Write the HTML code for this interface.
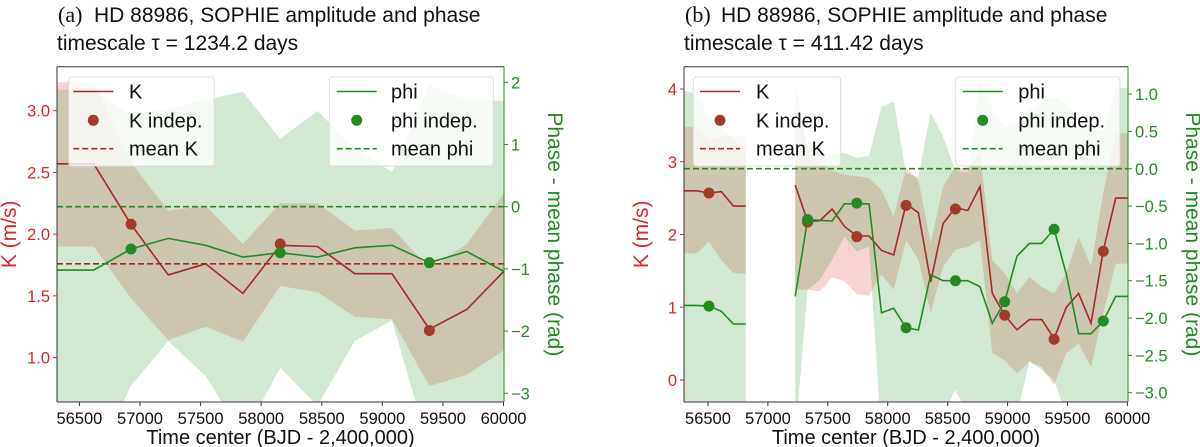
<!DOCTYPE html>
<html><head><meta charset="utf-8"><style>
html,body{margin:0;padding:0;background:#fff;}
svg{display:block;font-family:"Liberation Sans","DejaVu Sans",sans-serif;}
</style></head><body>
<svg id="chart" width="1200" height="447" viewBox="0 0 1200 447" xmlns="http://www.w3.org/2000/svg"></svg>
<script>
// ---------- Panel (a) data ----------
const timesA = [56310,56618,56926,57233,57541,57849,58157,58465,58772,59080,59388,59696,60004];
const kA     = [2.57,2.57,2.08,1.67,1.76,1.52,1.91,1.90,1.68,1.68,1.23,1.39,1.70];
const kUpA   = [3.23,3.23,2.58,2.19,2.23,1.92,2.25,2.25,2.03,2.05,1.72,1.92,2.33];
const kLoA   = [1.90,1.90,1.48,1.14,1.25,1.13,1.58,1.53,1.33,1.31,0.77,0.86,1.06];
const phiA   = [-1.02,-1.02,-0.68,-0.51,-0.62,-0.81,-0.74,-0.81,-0.66,-0.62,-0.90,-0.72,-1.04];
const phiUpA = [1.88,1.89,1.47,1.58,1.72,1.85,1.09,1.54,0.94,0.56,1.96,1.72,1.70];
const phiLoA = [-4.1,-4.1,-2.88,-2.16,-2.72,-3.7,-2.59,-3.2,-2.16,-1.83,-3.9,-4.0,-4.0];
const indepTimesA = [56926,58157,59388];
const kIndepA   = [2.08,1.92,1.22];
const phiIndepA = [-0.68,-0.74,-0.90];
const meanKA = 1.76, meanPhiA = 0;
const kTicksA = [1.0,1.5,2.0,2.5,3.0];
const kTickLabelsA = ["1.0","1.5","2.0","2.5","3.0"];
const phiTicksA = [-3,-2,-1,0,1,2];
const phiTickLabelsA = ["\u22123","\u22122","\u22121","0","1","2"];

// ---------- Panel (b) data ----------
const timesB = [56302,56405,56508,56611,56713,56816,56919,57022,57125,57228,57331,57433,57536,57639,57742,57845,57948,58050,58153,58256,58359,58462,58565,58668,58770,58873,58976,59079,59182,59285,59388,59490,59593,59696,59799,59902,60005];
const kB     = [2.60,2.60,2.57,2.59,2.39,2.39,null,null,null,2.68,2.18,2.19,2.35,2.11,1.98,1.98,1.78,1.72,2.42,2.30,1.35,2.15,2.37,2.33,2.66,1.19,0.89,0.69,0.83,0.83,0.57,1.0,1.19,0.78,1.78,2.5,2.5];
const kUpB   = [3.48,3.48,3.30,3.35,3.35,3.35,null,null,null,4.10,3.16,3.00,2.88,2.82,2.80,2.78,2.61,2.25,2.91,2.75,1.88,2.66,2.93,2.89,3.12,1.65,1.47,1.19,1.42,1.28,1.19,1.47,1.97,1.56,2.57,3.39,3.39];
const kLoB   = [1.74,1.74,1.90,1.65,1.47,1.46,null,null,null,1.24,1.24,1.22,1.41,1.36,1.18,1.16,1.45,1.24,1.92,1.65,0.92,1.56,1.79,1.83,1.92,0.37,0.27,0.09,0.25,0.18,-0.07,0.37,0.50,0.18,0.92,1.60,1.60];
const phiB   = [-1.83,-1.83,-1.84,-1.91,-2.08,-2.08,null,null,null,-1.71,-0.68,-0.69,-0.70,-0.47,-0.47,-0.47,-1.93,-1.87,-2.13,-2.16,-1.42,-1.50,-1.50,-1.50,-1.58,-2.07,-1.78,-1.17,-1.0,-1.0,-0.81,-1.41,-2.21,-2.21,-2.04,-1.71,-1.71];
const phiUpB = [1.05,1.00,0.68,0.54,0.40,0.25,null,null,null,0.92,0.30,0.20,0.21,0.21,0.15,0.17,0.83,0.90,-0.06,-0.11,0.76,0.43,-0.02,-0.06,1.17,0.79,0.56,0.61,0.79,0.88,0.97,0.88,0.65,0.56,0.50,1.08,1.08];
const phiLoB = [-3.6,-3.6,-3.6,-3.6,-3.6,-3.6,null,null,null,-3.6,-1.62,-1.49,-1.22,-0.91,-1.11,-1.04,-3.6,-3.6,-3.6,-3.6,-3.6,-3.3,-2.96,-3.3,-3.6,-3.6,-3.6,-3.3,-2.58,-2.70,-2.83,-3.3,-3.6,-3.6,-3.6,-3.6,-3.6];
const indepTimesB = [56508,57331,57742,58153,58565,58976,59388,59799];
const kIndepB   = [2.57,2.17,1.97,2.40,2.35,0.89,0.56,1.77];
const phiIndepB = [-1.84,-0.68,-0.46,-2.13,-1.50,-1.78,-0.81,-2.04];
const meanKB = 2.904, meanPhiB = 0;
const kTicksB = [0,1,2,3,4];
const kTickLabelsB = ["0","1","2","3","4"];
const phiTicksB = [-3,-2.5,-2,-1.5,-1,-0.5,0,0.5,1];
const phiTickLabelsB = ["\u22123.0","\u22122.5","\u22122.0","\u22121.5","\u22121.0","\u22120.5","0.0","0.5","1.0"];

const xTicks = [56500,57000,57500,58000,58500,59000,59500,60000];
const xTickLabels = ["56500","57000","57500","58000","58500","59000","59500","60000"];

const NS = "http://www.w3.org/2000/svg";
const svg = document.getElementById("chart");
const RED = "#d62728", KLINE = "#a52a2a", KDOT = "#a33a2a", GREEN = "#228b22";

function mk(tag, attrs, parent, text) {
  const e = document.createElementNS(NS, tag);
  for (const k in attrs) e.setAttribute(k, attrs[k]);
  if (text !== undefined) e.textContent = text;
  (parent || svg).appendChild(e);
  return e;
}

function segments(ts, vals) {
  const segs = []; let cur = [];
  ts.forEach((t, i) => {
    if (vals[i] === null) { if (cur.length) segs.push(cur); cur = []; }
    else cur.push(i);
  });
  if (cur.length) segs.push(cur);
  return segs;
}

function drawPanel(p) {
  const g = mk("g", {});
  
  
  const xS = t => p.x0 + (t - p.tmin) / (p.tmax - p.tmin) * (p.x1 - p.x0);
  const kS = v => p.kY0 + (p.kV0 - v) * p.kPx;
  const fS = v => p.fY0 + (p.fV0 - v) * p.fPx;
  const cid = "clip-" + p.id;
  const defs = mk("defs", {}, g);
  const cp = mk("clipPath", { id: cid }, defs);
  mk("rect", { x: p.x0, y: p.y0, width: p.x1 - p.x0, height: p.y1 - p.y0 }, cp);
  const plot = mk("g", { "clip-path": "url(#" + cid + ")" }, g);

  function band(ts, up, lo, sc, color, name) {
    segments(ts, up).forEach(seg => {
      let d = "";
      seg.forEach((i, j) => { d += (j ? "L" : "M") + xS(ts[i]).toFixed(1) + "," + sc(up[i]).toFixed(1); });
      seg.slice().reverse().forEach(i => { d += "L" + xS(ts[i]).toFixed(1) + "," + sc(lo[i]).toFixed(1); });
      const e = mk("path", { d: d + "Z", fill: color, "fill-opacity": 0.2, stroke: "none" }, plot);
      
      
    });
  }
  function line(ts, vals, sc, color, name) {
    segments(ts, vals).forEach(seg => {
      const pts = seg.map(i => xS(ts[i]).toFixed(1) + "," + sc(vals[i]).toFixed(1)).join(" ");
      const e = mk("polyline", { points: pts, fill: "none", stroke: color, "stroke-width": 1.6 }, plot);
      
      
    });
  }
  band(p.t, p.kUp, p.kLo, kS, RED, "k-uncertainty-band");
  band(p.t, p.phiUp, p.phiLo, fS, GREEN, "phi-uncertainty-band");

  const mk1 = mk("line", { x1: p.x0, x2: p.x1, y1: kS(p.meanK), y2: kS(p.meanK), stroke: KLINE, "stroke-width": 1.6, "stroke-dasharray": "6,3" }, plot);
  
  
  const mf = mk("line", { x1: p.x0, x2: p.x1, y1: fS(p.meanPhi), y2: fS(p.meanPhi), stroke: GREEN, "stroke-width": 1.6, "stroke-dasharray": "6,3" }, plot);
  
  

  line(p.t, p.k, kS, KLINE, "k-line");
  line(p.t, p.phi, fS, GREEN, "phi-line");

  p.it.forEach((t, i) => {
    const c = mk("circle", { cx: xS(t), cy: kS(p.kI[i]), r: 5.5, fill: KDOT }, plot);
    
    
  });
  p.it.forEach((t, i) => {
    const c = mk("circle", { cx: xS(t), cy: fS(p.phiI[i]), r: 5.5, fill: GREEN }, plot);
    
    
  });

  const frame = mk("g", {}, g);
  
  
  mk("line", { x1: p.x0, x2: p.x1, y1: p.y0, y2: p.y0, stroke: "#333", "stroke-width": 1 }, frame);
  mk("line", { x1: p.x0, x2: p.x1, y1: p.y1, y2: p.y1, stroke: "#333", "stroke-width": 1 }, frame);
  mk("line", { x1: p.x0, x2: p.x0, y1: p.y0, y2: p.y1, stroke: "#333", "stroke-width": 1 }, frame);
  mk("line", { x1: p.x1, x2: p.x1, y1: p.y0, y2: p.y1, stroke: GREEN, "stroke-width": 1 }, frame);

  const xt = mk("g", { "font-size": "16.5px", fill: "#111", "text-anchor": "middle" }, g);
  
  
  xTicks.forEach((t, i) => {
    const x = xS(t);
    mk("line", { x1: x, x2: x, y1: p.y1, y2: p.y1 + 4, stroke: "#333" }, xt);
    mk("text", { x: x, y: p.y1 + 22 }, xt, xTickLabels[i]);
  });
  const xl = mk("text", { x: (p.x0 + p.x1) / 2, y: 444, "font-size": "20px", "text-anchor": "middle", fill: "#111" }, g, "Time center (BJD - 2,400,000)");
  
  

  const kt = mk("g", { "font-size": "16.5px", fill: RED, "text-anchor": "end" }, g);
  
  
  p.kTicks.forEach((v, i) => {
    const y = kS(v);
    mk("line", { x1: p.x0 - 4, x2: p.x0, y1: y, y2: y, stroke: RED }, kt);
    mk("text", { x: p.x0 - 7, y: y + 6 }, kt, p.kTL[i]);
  });
  const kl = mk("text", { x: 0, y: 0, "font-size": "21px", fill: RED, "text-anchor": "middle", transform: "translate(" + p.kLabelX + "," + (p.y0 + p.y1) / 2 + ") rotate(-90)" }, g, "K (m/s)");
  
  

  const ft = mk("g", { "font-size": "16.5px", fill: GREEN, "text-anchor": "start" }, g);
  
  
  p.fTicks.forEach((v, i) => {
    const y = fS(v);
    mk("line", { x1: p.x1, x2: p.x1 + 4, y1: y, y2: y, stroke: GREEN }, ft);
    mk("text", { x: p.x1 + 7, y: y + 6 }, ft, p.fTL[i]);
  });
  const fl = mk("text", { x: 0, y: 0, "font-size": "21px", fill: GREEN, "text-anchor": "middle", transform: "translate(" + p.fLabelX + "," + (p.y0 + p.y1) / 2 + ") rotate(90)" }, g, "Phase - mean phase (rad)");
  
  

  function legend(bx, bw, hx, tx, entries, name) {
    const lg = mk("g", {}, g);
    
    
    mk("rect", { x: bx, y: 77, width: bw, height: 89, rx: 3, fill: "#fff", "fill-opacity": 0.8, stroke: "#ddd", "stroke-width": 1 }, lg);
    const ys = [91.5, 120.3, 148.7];
    entries.forEach((en, i) => {
      const y = ys[i];
      if (en.type === "line") mk("line", { x1: hx, x2: hx + 40, y1: y, y2: y, stroke: en.color, "stroke-width": 1.6 }, lg);
      if (en.type === "dash") mk("line", { x1: hx, x2: hx + 40, y1: y, y2: y, stroke: en.color, "stroke-width": 1.6, "stroke-dasharray": "6,3" }, lg);
      if (en.type === "dot") mk("circle", { cx: hx + 20, cy: y, r: 5.5, fill: en.color }, lg);
      mk("text", { x: tx, y: y + 7, "font-size": "20px", fill: "#111" }, lg, en.label);
    });
  }
  legend(p.kLeg[0], p.kLeg[1], p.kLeg[2], p.kLeg[3], [
    { type: "line", color: KLINE, label: "K" },
    { type: "dot", color: KDOT, label: "K indep." },
    { type: "dash", color: KLINE, label: "mean K" }], "k-legend");
  legend(p.fLeg[0], p.fLeg[1], p.fLeg[2], p.fLeg[3], [
    { type: "line", color: GREEN, label: "phi" },
    { type: "dot", color: GREEN, label: "phi indep." },
    { type: "dash", color: GREEN, label: "mean phi" }], "phi-legend");

  const tg = mk("g", { "font-size": "21px", fill: "#111" }, g);
  
  
  mk("text", { x: p.x0 + 1, y: 22, "font-family": "Liberation Serif, serif", "font-size": "22px" }, tg, p.letter);
  mk("text", { x: p.x0 + 37, y: 22 }, tg, "HD 88986, SOPHIE amplitude and phase");
  mk("text", { x: p.x0, y: 50 }, tg, p.sub);
}

drawPanel({
  id: "a", letter: "(a)", sub: "timescale \u03c4 = 1234.2 days",
  x0: 57, x1: 504, y0: 66.7, y1: 402, tmin: 56315, tmax: 60004,
  kY0: 110.7, kV0: 3.0, kPx: 123.45, fY0: 206.7, fV0: 0, fPx: 62.2,
  t: timesA, k: kA, kUp: kUpA, kLo: kLoA, phi: phiA, phiUp: phiUpA, phiLo: phiLoA,
  it: indepTimesA, kI: kIndepA, phiI: phiIndepA, meanK: meanKA, meanPhi: meanPhiA,
  kTicks: kTicksA, kTL: kTickLabelsA, fTicks: phiTicksA, fTL: phiTickLabelsA,
  kLabelX: 16, fLabelX: 548,
  kLeg: [68.7, 145.6, 73.3, 129], fLeg: [329.3, 164, 336.7, 391]
});
drawPanel({
  id: "b", letter: "(b)", sub: "timescale \u03c4 = 411.42 days",
  x0: 684, x1: 1128, y0: 66.7, y1: 402, tmin: 56300, tmax: 60005,
  kY0: 380, kV0: 0, kPx: 72.75, fY0: 94.1, fV0: 1.0, fPx: 74.65,
  t: timesB, k: kB, kUp: kUpB, kLo: kLoB, phi: phiB, phiUp: phiUpB, phiLo: phiLoB,
  it: indepTimesB, kI: kIndepB, phiI: phiIndepB, meanK: meanKB, meanPhi: meanPhiB,
  kTicks: kTicksB, kTL: kTickLabelsB, fTicks: phiTicksB, fTL: phiTickLabelsB,
  kLabelX: 648, fLabelX: 1186,
  kLeg: [693.3, 147.4, 700, 756], fLeg: [955.7, 164.3, 962.7, 1018.3]
});
</script>
</body></html>
